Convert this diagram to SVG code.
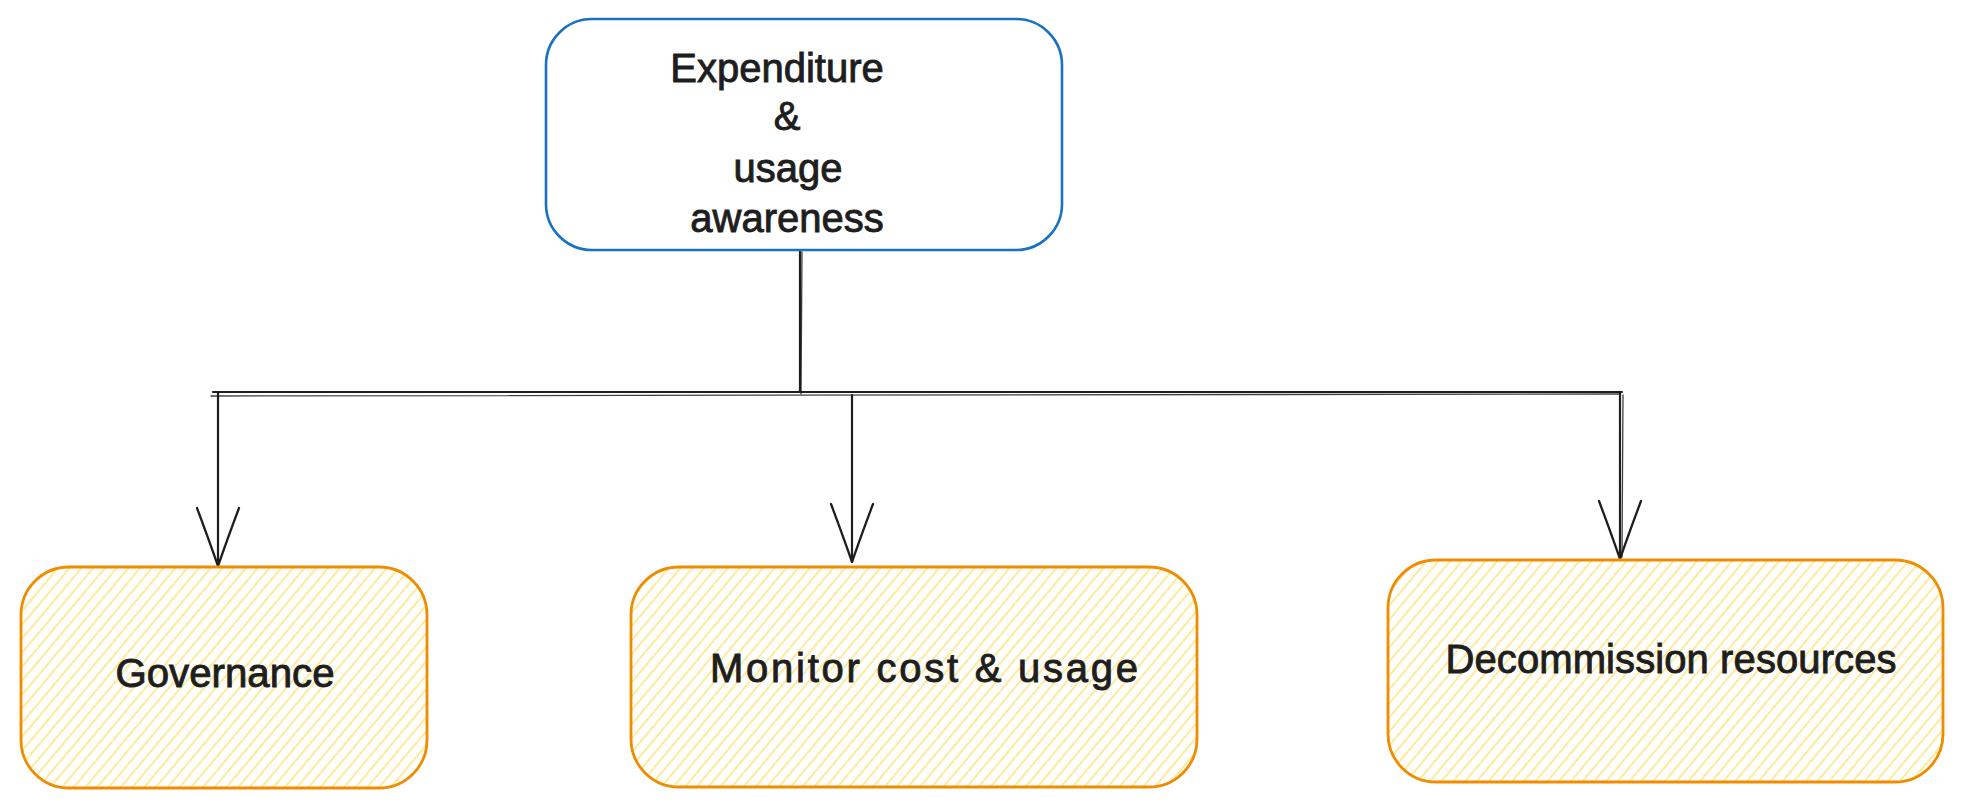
<svg xmlns="http://www.w3.org/2000/svg" width="1961" height="808" viewBox="0 0 1961 808">
  <defs>
    <pattern id="hatch" width="9" height="9" patternUnits="userSpaceOnUse" patternTransform="rotate(40)">
      <line x1="4.5" y1="0" x2="4.5" y2="9" stroke="#ffe380" stroke-width="1.6"/>
    </pattern>
    <marker id="arrow" markerUnits="userSpaceOnUse" markerWidth="64" markerHeight="50" viewBox="0 0 64 50" refX="60" refY="25" orient="auto">
      <path d="M2,4 Q34,16 60,25 Q34,34 2,46" fill="none" stroke="#1e1e1e" stroke-width="2.3" stroke-linecap="round" stroke-linejoin="round"/>
    </marker>
    <style>
      .top { fill: none; stroke: #1971c2; stroke-width: 2.6; }
      .box { fill: url(#hatch); stroke: #f08c00; stroke-width: 2.8; }
      .lbl { font-family: "Liberation Sans", Arial, sans-serif; font-size: 40px; fill: #1e1e1e; stroke: #1e1e1e; stroke-width: 0.9; text-anchor: middle; }
      .wire { fill: none; stroke: #1e1e1e; stroke-width: 2.2; stroke-linecap: round; }
      .wire2 { fill: none; stroke: #1e1e1e; stroke-width: 1.3; stroke-linecap: round; opacity: 0.85; }
    </style>
  </defs>
  <rect width="1961" height="808" fill="#ffffff"/>

  <g id="connectors">
    <path class="wire" d="M800,250 L800,392"/>
    <path class="wire2" d="M802,252 L801,394"/>
    <path class="wire" d="M213,392 L1622,392"/>
    <path class="wire2" d="M211,396 L1620,394"/>
    <path class="wire" d="M218,393 L218,566" marker-end="url(#arrow)"/>
    <path class="wire" d="M852,395 L852,562" marker-end="url(#arrow)"/>
    <path class="wire" d="M1620,393 L1620,559" marker-end="url(#arrow)"/>
    <path class="wire2" d="M1623,395 L1622,557"/>
  </g>

  <g id="node-expenditure">
    <rect class="top" x="546" y="19" width="516" height="231" rx="46" ry="46"/>
    <text class="lbl" x="777" y="82">Expenditure</text>
    <text class="lbl" x="787" y="130">&amp;</text>
    <text class="lbl" x="788" y="182">usage</text>
    <text class="lbl" x="787" y="232">awareness</text>
  </g>

  <g id="node-governance">
    <rect class="box" x="21" y="567" width="406" height="221" rx="48" ry="48"/>
    <text class="lbl" x="225" y="687" textLength="219" lengthAdjust="spacingAndGlyphs">Governance</text>
  </g>

  <g id="node-monitor">
    <rect class="box" x="631" y="567" width="566" height="220" rx="48" ry="48"/>
    <text class="lbl" x="924" y="682" textLength="428" lengthAdjust="spacing">Monitor cost &amp; usage</text>
  </g>

  <g id="node-decommission">
    <rect class="box" x="1388" y="560" width="555" height="222" rx="48" ry="48"/>
    <text class="lbl" x="1671" y="673" textLength="451" lengthAdjust="spacing">Decommission resources</text>
  </g>
</svg>
